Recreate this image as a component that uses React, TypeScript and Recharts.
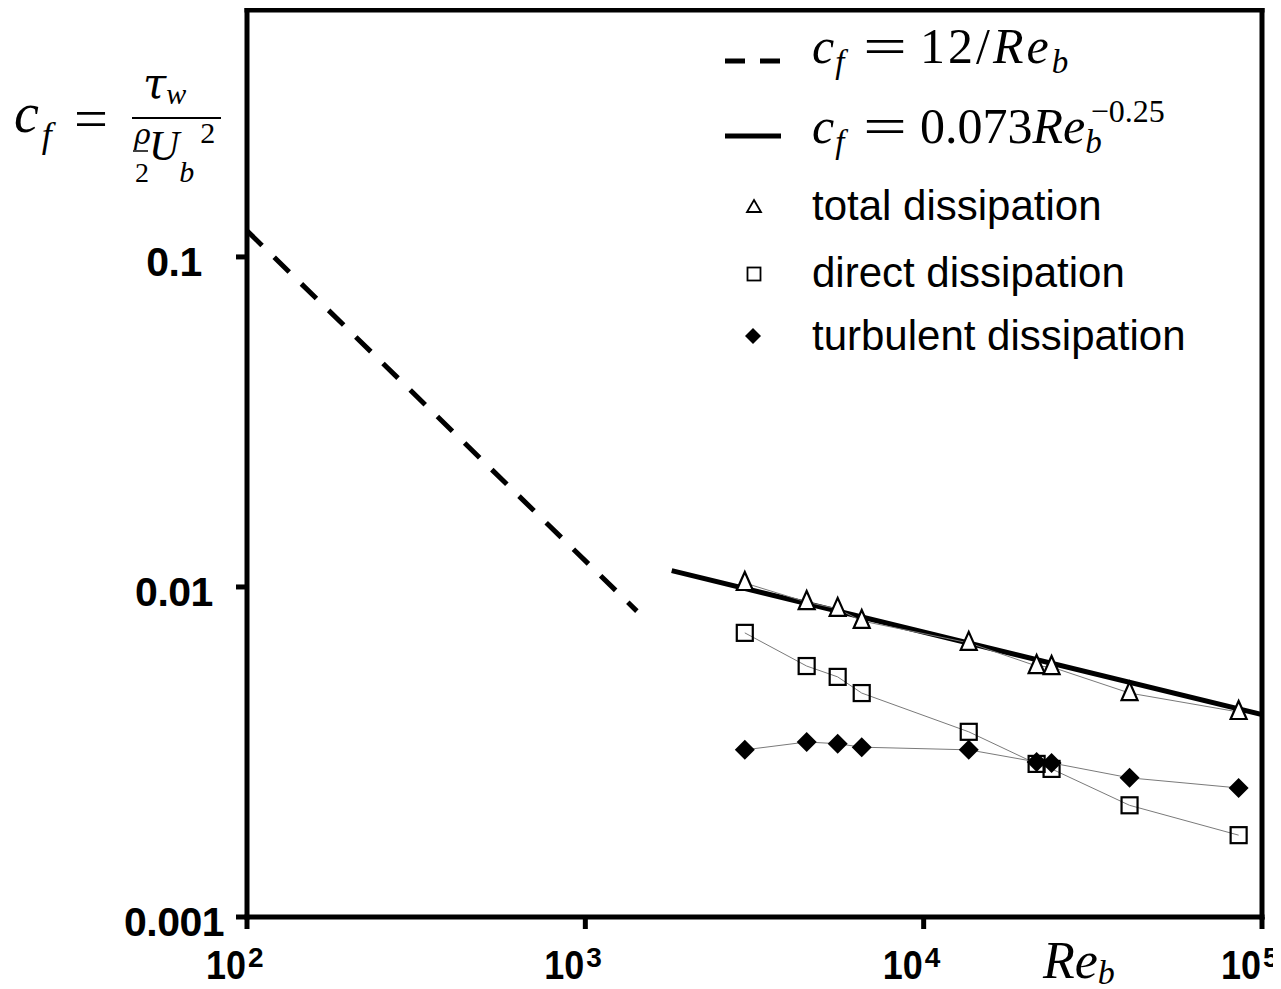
import React from 'react';
import { ComposedChart, Scatter, Line, XAxis, YAxis, ReferenceLine, Legend } from 'recharts';

// Bulk Reynolds numbers of the simulations
const reynolds = [2960, 4510, 5570, 6560, 13590, 21570, 23880, 40600, 85300];
// Skin-friction coefficient obtained from each dissipation budget
const totalCf = [0.01028, 0.009, 0.00858, 0.00789, 0.00677, 0.00576, 0.00572, 0.00477, 0.00418];
const directCf = [0.00726, 0.00576, 0.00534, 0.00477, 0.00364, 0.00291, 0.00281, 0.00218, 0.00177];
const turbulentCf = [0.00321, 0.00339, 0.00335, 0.00327, 0.00321, 0.00295, 0.00293, 0.00264, 0.00246];

// Reference correlations (end points of straight lines in log-log space)
const laminarRe = [100, 1420];
const laminarCf = [0.12, 0.00845];
const turbulentLawRe = [1800, 100000];
const turbulentLawCf = [0.01121, 0.004105];

const xTicks = [100, 1000, 10000, 100000];
const xTickExponents = ['2', '3', '4', '5'];
const yTicks = [0.001, 0.01, 0.1];
const yTickLabels = ['0.001', '0.01', '0.1'];

const X_DOMAIN: [number, number] = [100, 100000];
const Y_DOMAIN: [number, number] = [0.001, 0.56];

const SERIF = "'Liberation Serif', 'DejaVu Serif', serif";
const WIDE_SERIF = "'DejaVu Serif', serif";
const SANS = "'Liberation Sans', Arial, Helvetica, sans-serif";

const toPoints = (xs: number[], ys: number[]) => xs.map((re, i) => ({ re, cf: ys[i] }));

const totalData = toPoints(reynolds, totalCf);
const directData = toPoints(reynolds, directCf);
const turbulentData = toPoints(reynolds, turbulentCf);
const laminarData = toPoints(laminarRe, laminarCf);
const turbulentLawData = toPoints(turbulentLawRe, turbulentLawCf);

const closestIndex = (list: number[], v: number) => {
  let best = 0;
  list.forEach((t, i) => {
    if (Math.abs(Math.log10(t) - Math.log10(v)) < Math.abs(Math.log10(list[best]) - Math.log10(v))) best = i;
  });
  return best;
};

function XTick(props: any) {
  const { x, y, payload } = props;
  const i = closestIndex(xTicks, payload.value);
  return (
    <text y={y + 48} fontFamily={SANS} fontWeight="bold" fill="#000">
      <tspan x={x - 41} fontSize={41} textLength={40} lengthAdjust="spacingAndGlyphs">10</tspan>
      <tspan x={x + 1} dy={-12} fontSize={28}>{xTickExponents[i]}</tspan>
    </text>
  );
}

function YTick(props: any) {
  const { x, y, payload } = props;
  const i = closestIndex(yTicks, payload.value);
  return (
    <text x={x - 60} y={y + 19} textAnchor="middle" fontFamily={SANS} fontWeight="bold" fontSize={41} letterSpacing={-0.5} fill="#000">
      {yTickLabels[i]}
    </text>
  );
}

function ReLabel(props: any) {
  const vb = props.viewBox || { x: 239, y: 909 };
  return (
    <text x={vb.x + 796} y={vb.y + 61} fontFamily={SERIF} fontStyle="italic" fontSize={52} fill="#000">
      Re
      <tspan fontSize={34} dy={6}>b</tspan>
    </text>
  );
}

function CfLabel(props: any) {
  const vb = props.viewBox || { x: 0, y: 2 };
  const X = (px: number) => vb.x + px - 8;
  const Y = (py: number) => vb.y + py - 10;
  return (
    <g fontFamily={SERIF} fill="#000">
      <text x={X(14)} y={Y(132)} fontSize={56} fontStyle="italic">
        c
        <tspan fontSize={36} dx={3} dy={15}>f</tspan>
      </text>
      <text x={X(74)} y={Y(138)} fontSize={56} textLength={34} lengthAdjust="spacingAndGlyphs">=</text>
      <line x1={X(132)} x2={X(221)} y1={Y(118)} y2={Y(118)} stroke="#000" strokeWidth={2} />
      <text x={X(143)} y={Y(98)} fontSize={42} fontStyle="italic" fontFamily={WIDE_SERIF}>
        τ
        <tspan fontSize={30} fontFamily={SERIF} dy={6}>w</tspan>
      </text>
      <text x={X(134)} y={Y(144)} fontSize={28} fontStyle="italic" fontFamily={WIDE_SERIF}>ρ</text>
      <line x1={X(133)} x2={X(148)} y1={Y(151)} y2={Y(151)} stroke="#000" strokeWidth={1.5} />
      <text x={X(135)} y={Y(182)} fontSize={28}>2</text>
      <text x={X(149)} y={Y(160)} fontSize={42} fontStyle="italic">
        U
        <tspan fontSize={30} dy={22}>b</tspan>
        <tspan fontSize={30} fontStyle="normal" dx={6} dy={-39}>2</tspan>
      </text>
    </g>
  );
}

const TriangleMark = (p: any) => {
  const { cx, cy } = p;
  if (cx == null || cy == null) return <g />;
  return (
    <path
      d={`M${cx},${cy - 11} L${cx + 8},${cy + 7} L${cx - 8},${cy + 7} Z`}
      fill="#fff"
      stroke="#000"
      strokeWidth={2.2}
    />
  );
};

const SquareMark = (p: any) => {
  const { cx, cy } = p;
  if (cx == null || cy == null) return <g />;
  return <rect x={cx - 8} y={cy - 8} width={16} height={16} fill="none" stroke="#000" strokeWidth={2.2} />;
};

const DiamondMark = (p: any) => {
  const { cx, cy } = p;
  if (cx == null || cy == null) return <g />;
  return <path d={`M${cx},${cy - 10} L${cx + 10},${cy} L${cx},${cy + 10} L${cx - 10},${cy} Z`} fill="#000" />;
};

// c_f = ... prefix shared by the two correlation rows of the legend
function CfPrefix({ baseline }: { baseline: number }) {
  return (
    <g fontFamily={SERIF} fill="#000">
      <text x={112} y={baseline} fontSize={50} fontStyle="italic">
        c
        <tspan fontSize={33} dx={1} dy={10}>f</tspan>
      </text>
      <text x={163} y={baseline + 1} fontSize={52} textLength={44} lengthAdjust="spacingAndGlyphs">=</text>
    </g>
  );
}

// Legend rows, keyed by series name
function LegendRow({ name }: { name: string }) {
  const textProps = { fontFamily: SANS, fontSize: 42, fill: '#000' };
  switch (name) {
    case 'laminar':
      return (
        <g>
          <line x1={25} x2={81} y1={41} y2={41} stroke="#000" strokeWidth={5} strokeDasharray="20 15" />
          <CfPrefix baseline={43} />
          <text x={220} y={43} fontFamily={SERIF} fontSize={50} letterSpacing={3} fill="#000">
            12/
            <tspan fontStyle="italic">Re</tspan>
            <tspan fontStyle="italic" fontSize={33} dy={10}>b</tspan>
          </text>
        </g>
      );
    case 'turbulent correlation':
      return (
        <g>
          <line x1={25} x2={81} y1={116} y2={116} stroke="#000" strokeWidth={5} />
          <CfPrefix baseline={123} />
          <text x={220} y={123} fontFamily={SERIF} fontSize={50} fill="#000">
            0.073
            <tspan fontStyle="italic">Re</tspan>
            <tspan fontStyle="italic" fontSize={33} dy={10}>b</tspan>
            <tspan fontSize={32} dx={-11} dy={-31}>−0.25</tspan>
          </text>
        </g>
      );
    case 'total dissipation':
      return (
        <g>
          <path d="M54,180 L61,192 L47,192 Z" fill="#fff" stroke="#000" strokeWidth={1.8} />
          <text x={112} y={200} {...textProps}>total dissipation</text>
        </g>
      );
    case 'direct dissipation':
      return (
        <g>
          <rect x={47.5} y={247.5} width={13} height={13} fill="none" stroke="#000" strokeWidth={1.8} />
          <text x={112} y={267} {...textProps}>direct dissipation</text>
        </g>
      );
    case 'turbulent dissipation':
      return (
        <g>
          <path d="M53,308 L61,316 L53,324 L45,316 Z" fill="#000" />
          <text x={112} y={330} {...textProps}>turbulent dissipation</text>
        </g>
      );
    default:
      return null;
  }
}

function LegendContent(props: any) {
  const payload: any[] = props.payload || [];
  return (
    <svg width={560} height={350} style={{ display: 'block', overflow: 'visible' }}>
      {payload.map((entry: any) => (
        <LegendRow key={String(entry.value)} name={String(entry.value)} />
      ))}
    </svg>
  );
}

export default function App() {
  return (
    <div style={{ width: 1273, height: 981 }}>
      <ComposedChart width={1273} height={981} margin={{ top: 2, right: 19, bottom: 0, left: 0 }}>
        <XAxis
          dataKey="re"
          type="number"
          scale="log"
          domain={X_DOMAIN}
          allowDataOverflow
          ticks={xTicks}
          interval={0}
          height={72}
          tickSize={12}
          axisLine={{ stroke: '#000', strokeWidth: 5, strokeLinecap: 'square' }}
          tickLine={{ stroke: '#000', strokeWidth: 5 }}
          tick={<XTick />}
          label={ReLabel}
        />
        <YAxis
          dataKey="cf"
          type="number"
          scale="log"
          domain={Y_DOMAIN}
          allowDataOverflow
          ticks={yTicks}
          interval={0}
          width={239}
          tickSize={11}
          axisLine={{ stroke: '#000', strokeWidth: 5, strokeLinecap: 'square' }}
          tickLine={{ stroke: '#000', strokeWidth: 5 }}
          tick={<YTick />}
          label={CfLabel}
        />
        <ReferenceLine y={Y_DOMAIN[1]} stroke="#000" strokeWidth={5} strokeLinecap="square" />
        <ReferenceLine x={X_DOMAIN[1]} stroke="#000" strokeWidth={5} strokeLinecap="square" />
        <Line
          data={laminarData}
          dataKey="cf"
          name="laminar"
          stroke="#000"
          strokeWidth={5}
          strokeDasharray="21 17"
          dot={false}
          activeDot={false}
          isAnimationActive={false}
        />
        <Line
          data={turbulentLawData}
          dataKey="cf"
          name="turbulent correlation"
          stroke="#000"
          strokeWidth={5}
          dot={false}
          activeDot={false}
          isAnimationActive={false}
        />
        <Scatter
          data={totalData}
          dataKey="cf"
          name="total dissipation"
          shape={TriangleMark}
          line={{ stroke: '#7a7a7a', strokeWidth: 1 }}
          isAnimationActive={false}
        />
        <Scatter
          data={directData}
          dataKey="cf"
          name="direct dissipation"
          shape={SquareMark}
          line={{ stroke: '#7a7a7a', strokeWidth: 1 }}
          isAnimationActive={false}
        />
        <Scatter
          data={turbulentData}
          dataKey="cf"
          name="turbulent dissipation"
          shape={DiamondMark}
          line={{ stroke: '#7a7a7a', strokeWidth: 1 }}
          isAnimationActive={false}
        />
        <Legend
          layout="horizontal"
          verticalAlign="middle"
          align="center"
          content={LegendContent}
          wrapperStyle={{ left: 692, top: 12, width: 560, height: 350 }}
        />
      </ComposedChart>
    </div>
  );
}
